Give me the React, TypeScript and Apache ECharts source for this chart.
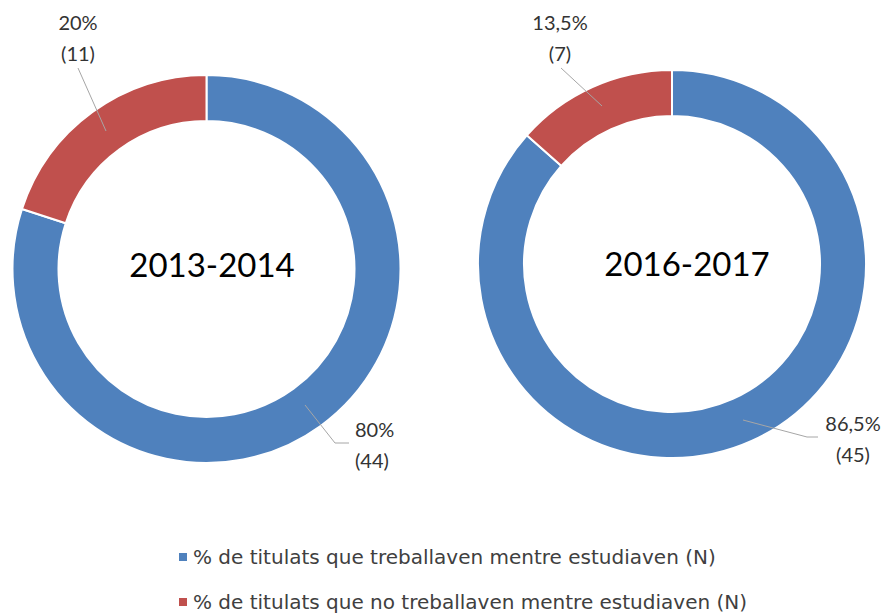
import React, { useEffect, useRef } from "react";
import * as echarts from "echarts";

const categories = [
  "% de titulats que treballaven mentre estudiaven (N)",
  "% de titulats que no treballaven mentre estudiaven (N)",
];
const periods = ["2013-2014", "2016-2017"];
const counts2013 = [44, 11];
const counts2016 = [45, 7];
const colors = ["#4F81BD", "#C0504D"];

const FONT = "Lato, 'Noto Sans', sans-serif";
const LEGEND_FONT = "'DejaVu Sans', sans-serif";

// label placement (layout only), per series then per data item
const labelPlacement = [
  [
    { x: 355, y: 444, align: "left", line: [[305, 405], [335, 443], [349, 443]] },
    { x: 78, y: 37, align: "center", line: [[106, 131], [78, 68]] },
  ],
  [
    { x: 853, y: 438, align: "center", line: [[743, 420], [807, 437], [818, 437]] },
    { x: 560, y: 37, align: "center", line: [[602, 106], [561, 68]] },
  ],
];

const centers = [
  [206.5, 269],
  [672, 264],
];
const titlePos = [
  [207, 259],
  [682, 258],
];

function fmtPercent(p: number) {
  const r = Math.round(p * 10) / 10;
  return String(r).replace(".", ",") + "%";
}

export default function App() {
  const ref = useRef<HTMLDivElement>(null);
  useEffect(() => {
    if (!ref.current) return;
    const chart = echarts.init(ref.current, null, { renderer: "svg" });
    const datasets = [counts2013, counts2016];
    const ringSeries = datasets.map((vals, si) => ({
      type: "pie",
      name: periods[si],
      center: centers[si],
      radius: [148, 194],
      startAngle: 90,
      clockwise: true,
      z: 2,
      emphasis: { disabled: true },
      itemStyle: { borderColor: "#ffffff", borderWidth: 2 },
      label: { show: false },
      labelLine: { show: false },
      data: vals.map((v, i) => ({
        name: categories[i],
        value: v,
        itemStyle: { color: colors[i] },
      })),
    }));
    const labelSeries = datasets.map((vals, si) => ({
      type: "pie",
      name: periods[si] + " labels",
      center: centers[si],
      radius: [148, 194],
      startAngle: 90,
      clockwise: true,
      silent: true,
      z: 5,
      legendHoverLink: false,
      avoidLabelOverlap: false,
      emphasis: { disabled: true },
      itemStyle: { color: "rgba(0,0,0,0)", borderWidth: 0 },
      data: vals.map((v, i) => ({ name: categories[i], value: v })),
      label: {
        show: true,
        position: "outside",
        formatter: (p: any) => fmtPercent(p.percent) + "\n(" + p.value + ")",
        color: "#333333",
        opacity: 1,
        fontFamily: FONT,
        fontSize: 20,
        lineHeight: 31,
      },
      labelLine: {
        show: true,
        length: 10,
        length2: 10,
        lineStyle: { color: "#a6a6a6", width: 1, opacity: 1 },
      },
      labelLayout: (params: any) => {
        const pl = labelPlacement[si][params.dataIndex];
        return {
          x: pl.x,
          y: pl.y,
          align: pl.align,
          verticalAlign: "middle",
          labelLinePoints: pl.line,
        };
      },
    }));
    const legendTops = [542, 587];
    chart.setOption({
      animation: false,
      backgroundColor: "#ffffff",
      title: periods.map((t, i) => ({
        text: t,
        left: titlePos[i][0],
        top: titlePos[i][1],
        textAlign: "center",
        textVerticalAlign: "middle",
        textStyle: {
          fontFamily: FONT,
          fontSize: 33,
          fontWeight: "normal",
          color: "#000000",
        },
      })),
      legend: categories.map((c, i) => ({
        orient: "vertical",
        left: 172,
        top: legendTops[i],
        itemWidth: 10,
        itemHeight: 10,
        icon: "rect",
        data: [{ name: c, itemStyle: { color: colors[i] } }],
        textStyle: {
          fontFamily: LEGEND_FONT,
          fontSize: 20,
          lineHeight: 20,
          color: "#404040",
        },
      })),
      series: [...ringSeries, ...labelSeries],
    });
    return () => chart.dispose();
  }, []);
  return (
    <div
      ref={ref}
      style={{ position: "absolute", left: 0, top: 0, width: 887, height: 613 }}
    />
  );
}
